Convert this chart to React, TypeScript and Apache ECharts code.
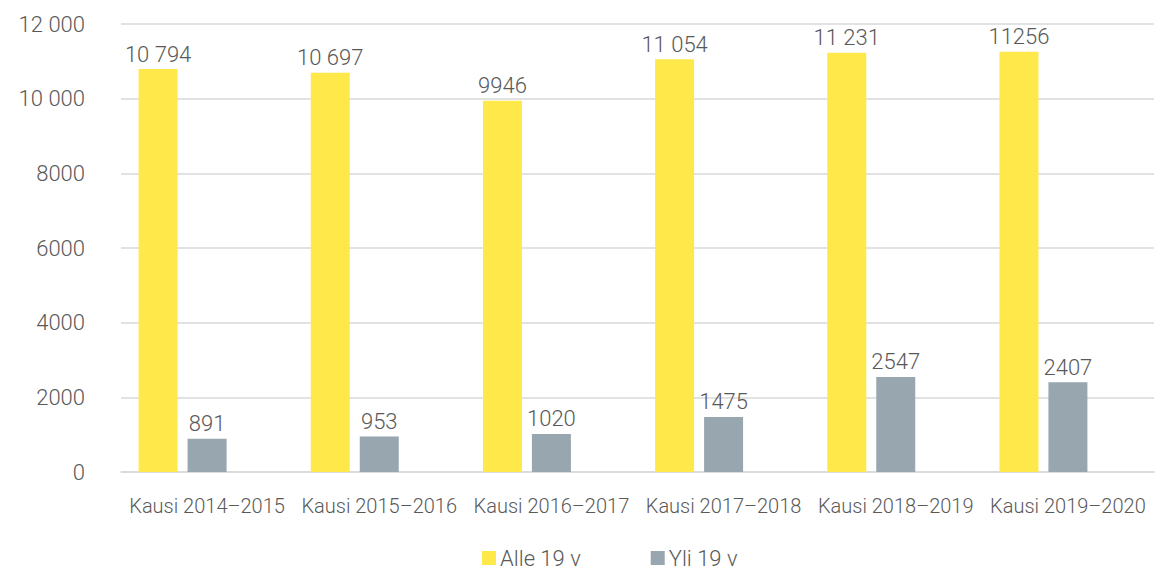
import React, { useEffect, useRef } from "react";
import * as echarts from "echarts";

const categories = [
  "Kausi 2014–2015",
  "Kausi 2015–2016",
  "Kausi 2016–2017",
  "Kausi 2017–2018",
  "Kausi 2018–2019",
  "Kausi 2019–2020",
];
const alle19 = [10794, 10697, 9946, 11054, 11231, 11256];
const alle19Labels = ["10 794", "10 697", "9946", "11 054", "11 231", "11256"];
const yli19 = [891, 953, 1020, 1475, 2547, 2407];
const yli19Labels = ["891", "953", "1020", "1475", "2547", "2407"];
const yTickLabels: Record<number, string> = {
  0: "0",
  2000: "2000",
  4000: "4000",
  6000: "6000",
  8000: "8000",
  10000: "10 000",
  12000: "12 000",
};

const FONT = "Roboto";
const TEXT = "#595959";

export default function App() {
  const ref = useRef<HTMLDivElement>(null);
  useEffect(() => {
    if (!ref.current) return;
    const chart = echarts.init(ref.current, undefined, { renderer: "svg" });
    chart.setOption({
      animation: false,
      textStyle: { fontFamily: FONT, fontWeight: 300 },
      grid: { left: 121, right: 12, top: 24, bottom: 97 },
      legend: {
        data: ["Alle 19 v", "Yli 19 v"],
        left: 482,
        top: 547,
        padding: 0,
        itemWidth: 14,
        itemHeight: 14,
        itemGap: 70,
        icon: "rect",
        textStyle: { color: TEXT, fontSize: 22, lineHeight: 22, fontFamily: FONT, fontWeight: 300, padding: [0, 0, 0, -1] },
      },
      xAxis: {
        type: "category",
        data: categories,
        axisTick: { show: false },
        axisLine: { lineStyle: { color: "#D9D9D9", width: 1.5 } },
        axisLabel: { color: TEXT, fontSize: 20, fontFamily: FONT, fontWeight: 300, margin: 24, interval: 0 },
      },
      yAxis: {
        type: "value",
        min: 0,
        max: 12000,
        interval: 2000,
        axisLine: { show: false },
        axisTick: { show: false },
        splitLine: { lineStyle: { color: "#D9D9D9", width: 1.5 } },
        axisLabel: {
          color: TEXT,
          fontSize: 22,
          fontFamily: FONT,
          fontWeight: 300,
          margin: 36,
          formatter: (v: number) => yTickLabels[v] ?? String(v),
        },
      },
      series: [
        {
          name: "Alle 19 v",
          type: "bar",
          data: alle19,
          barWidth: 39,
          barGap: "25.6%",
          itemStyle: { color: "#FFE84A" },
          label: {
            show: true,
            position: "top",
            distance: 4,
            color: TEXT,
            fontSize: 22,
            fontFamily: FONT,
            fontWeight: 300,
            formatter: (p: any) => alle19Labels[p.dataIndex],
          },
        },
        {
          name: "Yli 19 v",
          type: "bar",
          data: yli19,
          barWidth: 39,
          barGap: "25.6%",
          itemStyle: { color: "#97A6AF" },
          label: {
            show: true,
            position: "top",
            distance: 4,
            color: TEXT,
            fontSize: 22,
            fontFamily: FONT,
            fontWeight: 300,
            formatter: (p: any) => yli19Labels[p.dataIndex],
          },
        },
        {
          name: "spacer",
          type: "bar",
          data: [],
          barWidth: 39,
          barGap: "25.6%",
        },
      ],
    });
    return () => chart.dispose();
  }, []);
  return <div ref={ref} style={{ width: 1166, height: 569, position: "absolute", left: 0, top: 0 }} />;
}
